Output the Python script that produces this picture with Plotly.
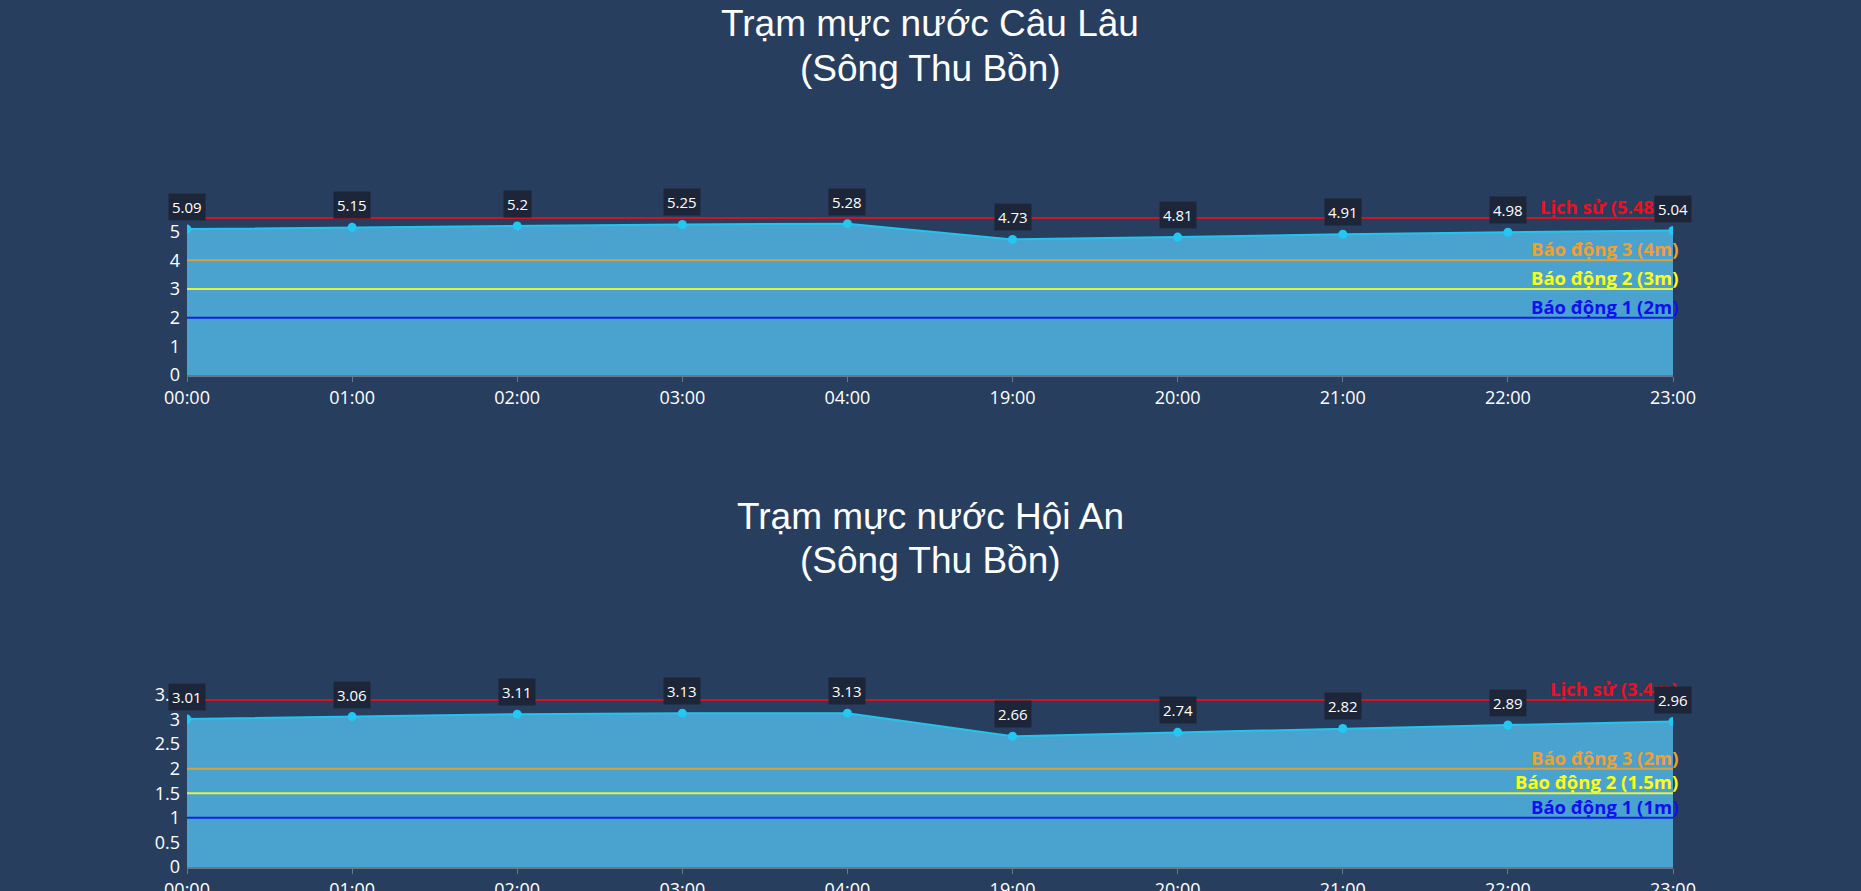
import plotly.graph_objects as go
from plotly.subplots import make_subplots

hours = ["00:00", "01:00", "02:00", "03:00", "04:00", "19:00", "20:00", "21:00", "22:00", "23:00"]

cau_lau = [5.09, 5.15, 5.2, 5.25, 5.28, 4.73, 4.81, 4.91, 4.98, 5.04]
hoi_an = [3.01, 3.06, 3.11, 3.13, 3.13, 2.66, 2.74, 2.82, 2.89, 2.96]

stations = [
    {"title": "Trạm mực nước Câu Lâu", "river": "(Sông Thu Bồn)", "values": cau_lau,
     "levels": [5.48, 4, 3, 2], "names": ["Lịch sử (5.48m)", "Báo động 3 (4m)", "Báo động 2 (3m)", "Báo động 1 (2m)"],
     "ymax": 6, "dtick": 1},
    {"title": "Trạm mực nước Hội An", "river": "(Sông Thu Bồn)", "values": hoi_an,
     "levels": [3.4, 2, 1.5, 1], "names": ["Lịch sử (3.4m)", "Báo động 3 (2m)", "Báo động 2 (1.5m)", "Báo động 1 (1m)"],
     "ymax": 3.5, "dtick": 0.5},
]

line_colors = ["#d01424", "#d9a040", "#e4f23c", "#1020e8"]
text_colors = ["#ee1020", "#f0a030", "#ffff10", "#1010ee"]

BG = "#283e5e"
W, H = 1861, 891

fig = make_subplots(rows=2, cols=1)

annotations = []
label_annotations = []
for i, st in enumerate(stations):
    row = i + 1
    xa = "x" if row == 1 else "x2"
    ya = "y" if row == 1 else "y2"

    fig.add_trace(go.Scatter(
        x=hours, y=st["values"], mode="lines+markers",
        line=dict(color="#22c4ee", width=2),
        marker=dict(color="#22c8f2", size=9),
        fill="tozeroy", fillcolor="#4aa3cf",
        showlegend=False, hoverinfo="x+y"), row=row, col=1)

    for lvl, name, lc, tc in zip(st["levels"], st["names"], line_colors, text_colors):
        fig.add_trace(go.Scatter(
            x=[hours[0], hours[-1]], y=[lvl, lvl], mode="lines",
            line=dict(color=lc, width=2), showlegend=False, hoverinfo="skip"),
            row=row, col=1)
        annotations.append(dict(
            x=1.005, xref=xa + " domain", y=lvl, yref=ya, text="<b>" + name + "</b>",
            xanchor="right", yanchor="bottom", showarrow=False, yshift=-3,
            font=dict(family="Open Sans", size=18.5, color=tc)))

    for h, v in zip(hours, st["values"]):
        label_annotations.append(dict(
            x=h, xref=xa, y=v, yref=ya, text=str(v), showarrow=False,
            yshift=22, bgcolor="#1c2638", borderpad=3,
            font=dict(family="Open Sans", size=15, color="white")))

# titles, two lines each (pixel rows from the top)
title_rows = [(24, stations[0]["title"]), (69, stations[0]["river"]),
              (516, stations[1]["title"]), (560, stations[1]["river"])]
for py, txt in title_rows:
    annotations.append(dict(
        x=0.5, xref="paper", y=1 - py / H, yref="paper", text=txt, showarrow=False,
        xanchor="center", yanchor="middle",
        font=dict(family="Liberation Sans, Arial", size=37, color="white")))

fig.update_xaxes(type="category", showgrid=False, showline=True, linecolor="#6e7685", linewidth=2,
                 ticks="outside", ticklen=5, tickcolor="#6e7685", zeroline=False, automargin=False,
                 tickfont=dict(family="Open Sans", size=18, color="white"), fixedrange=True,
                 domain=[0, 1], range=[0, len(hours) - 1])

fig.update_yaxes(showgrid=False, zeroline=False, showline=False, ticks="", automargin=False,
                 tickfont=dict(family="Open Sans", size=18, color="white"), ticklabelstandoff=6)
fig.update_yaxes(range=[0, stations[0]["ymax"]], dtick=stations[0]["dtick"],
                 domain=[1 - 375 / H, 1 - 203 / H], row=1, col=1)
fig.update_yaxes(range=[0, stations[1]["ymax"]], dtick=stations[1]["dtick"],
                 domain=[1 - 867 / H, 1 - 695 / H], row=2, col=1)

fig.update_layout(
    width=W, height=H,
    margin=dict(l=187, r=W - 1673, t=0, b=0, autoexpand=False),
    paper_bgcolor=BG, plot_bgcolor=BG,
    annotations=annotations + label_annotations,
    showlegend=False,
)

fig.write_html("out.html", config={"displayModeBar": False},
               post_script="document.body.style.margin='0';document.body.style.background='" + BG + "';")
